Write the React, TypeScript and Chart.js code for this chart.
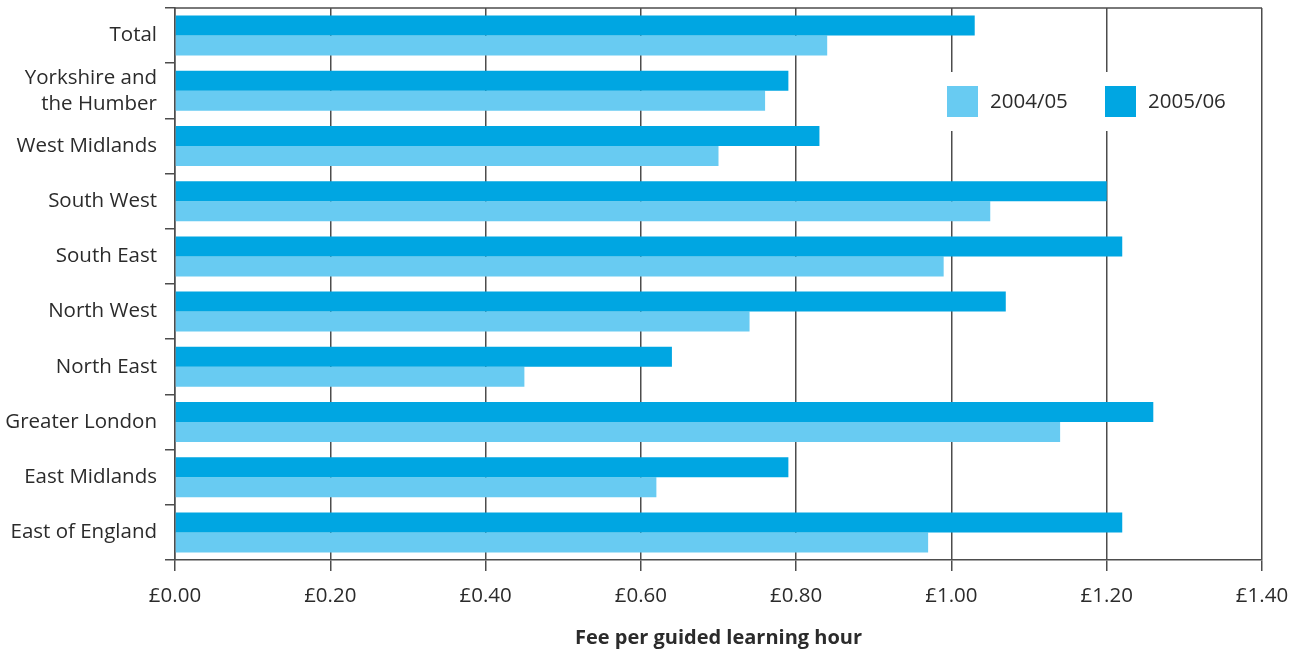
import React, { useEffect, useRef } from 'react';
import { Chart, registerables } from 'chart.js';

Chart.register(...registerables);

const categories: (string | string[])[] = [
  'Total',
  ['Yorkshire and', 'the Humber'],
  'West Midlands',
  'South West',
  'South East',
  'North West',
  'North East',
  'Greater London',
  'East Midlands',
  'East of England',
];

const values2005_06 = [1.03, 0.79, 0.83, 1.2, 1.22, 1.07, 0.64, 1.26, 0.79, 1.22];
const values2004_05 = [0.84, 0.76, 0.7, 1.05, 0.99, 0.74, 0.45, 1.14, 0.62, 0.97];

const seriesLabels = ['2005/06', '2004/05'];
const seriesColors = ['#00A6E2', '#68CBF2'];
const legendOrder = [1, 0];

const xMin = 0;
const xMax = 1.4;
const xStep = 0.2;
const xTitle = 'Fee per guided learning hour';

const FONT = '"Open Sans", "DejaVu Sans", sans-serif';
const TEXT = '#2b2b2b';
const LINE = '#4d4d4d';

const frameAndLegend = {
  id: 'frameAndLegend',
  afterDatasetsDraw(chart: any) {
    const { ctx, chartArea } = chart;
    const { left, right, top } = chartArea;
    ctx.save();
    // top border
    ctx.strokeStyle = LINE;
    ctx.lineWidth = 1.5;
    ctx.beginPath();
    ctx.moveTo(left, top);
    ctx.lineTo(right, top);
    ctx.stroke();

    // legend box
    const boxLeft = right - 324;
    const boxTop = top + 64;
    const boxW = 306;
    const boxH = 59;
    ctx.fillStyle = '#ffffff';
    ctx.fillRect(boxLeft, boxTop, boxW, boxH);

    const sq = 31;
    const cy = boxTop + boxH / 2;
    let x = boxLeft + 9;
    ctx.font = `20.5px ${FONT}`;
    ctx.textBaseline = 'middle';
    ctx.textAlign = 'left';
    legendOrder.forEach((di) => {
      const ds = chart.data.datasets[di];
      ctx.fillStyle = ds.backgroundColor as string;
      ctx.fillRect(x, cy - sq / 2, sq, sq);
      ctx.fillStyle = TEXT;
      ctx.fillText(ds.label, x + sq + 12, cy + 1);
      x += 158;
    });
    ctx.restore();
  },
};

export default function App() {
  const canvasRef = useRef<HTMLCanvasElement | null>(null);

  useEffect(() => {
    document.body.style.margin = '0';
    const canvas = canvasRef.current;
    if (!canvas) return;
    const chart = new Chart(canvas, {
      type: 'bar',
      data: {
        labels: categories,
        datasets: [
          {
            label: seriesLabels[0],
            data: values2005_06,
            backgroundColor: seriesColors[0],
            borderWidth: 0,
            barPercentage: 1,
            categoryPercentage: 0.725,
          },
          {
            label: seriesLabels[1],
            data: values2004_05,
            backgroundColor: seriesColors[1],
            borderWidth: 0,
            barPercentage: 1,
            categoryPercentage: 0.725,
          },
        ],
      },
      options: {
        indexAxis: 'y',
        responsive: false,
        animation: false,
        devicePixelRatio: 1,
        layout: { padding: { left: 0, right: 41, top: 8, bottom: 0 } },
        plugins: {
          legend: { display: false },
          tooltip: { enabled: false },
        },
        scales: {
          x: {
            type: 'linear',
            min: xMin,
            max: xMax,
            ticks: {
              stepSize: xStep,
              padding: 13,
              color: TEXT,
              font: { family: FONT, size: 20.5 },
              callback: (v: any) => '£' + Number(v).toFixed(2),
            },
            grid: {
              color: LINE,
              lineWidth: 1.5,
              tickLength: 11,
              drawOnChartArea: true,
            },
            border: { display: true, color: LINE, width: 1.5 },
            title: {
              display: true,
              text: xTitle,
              color: TEXT,
              font: { family: FONT, size: 20, weight: 'bold' },
              padding: { top: 0, bottom: 5 },
            },
            afterFit: (scale: any) => {
              scale.height = 95;
            },
          },
          y: {
            type: 'category',
            offset: true,
            ticks: {
              autoSkip: false,
              padding: 8,
              color: TEXT,
              font: { family: FONT, size: 20.5, lineHeight: 1.27 },
            },
            grid: {
              offset: true,
              drawOnChartArea: false,
              color: LINE,
              lineWidth: 1.5,
              tickLength: 10,
            },
            border: { display: true, color: LINE, width: 1.5 },
            afterFit: (scale: any) => {
              scale.width = 175;
              scale.paddingTop = 0;
              scale.paddingBottom = 0;
            },
          },
        },
      },
      plugins: [frameAndLegend],
    });
    return () => chart.destroy();
  }, []);

  return (
    <div style={{ position: 'absolute', left: 0, top: 0, width: 1303, height: 655, background: '#fff' }}>
      <canvas ref={canvasRef} width={1303} height={655} />
    </div>
  );
}
